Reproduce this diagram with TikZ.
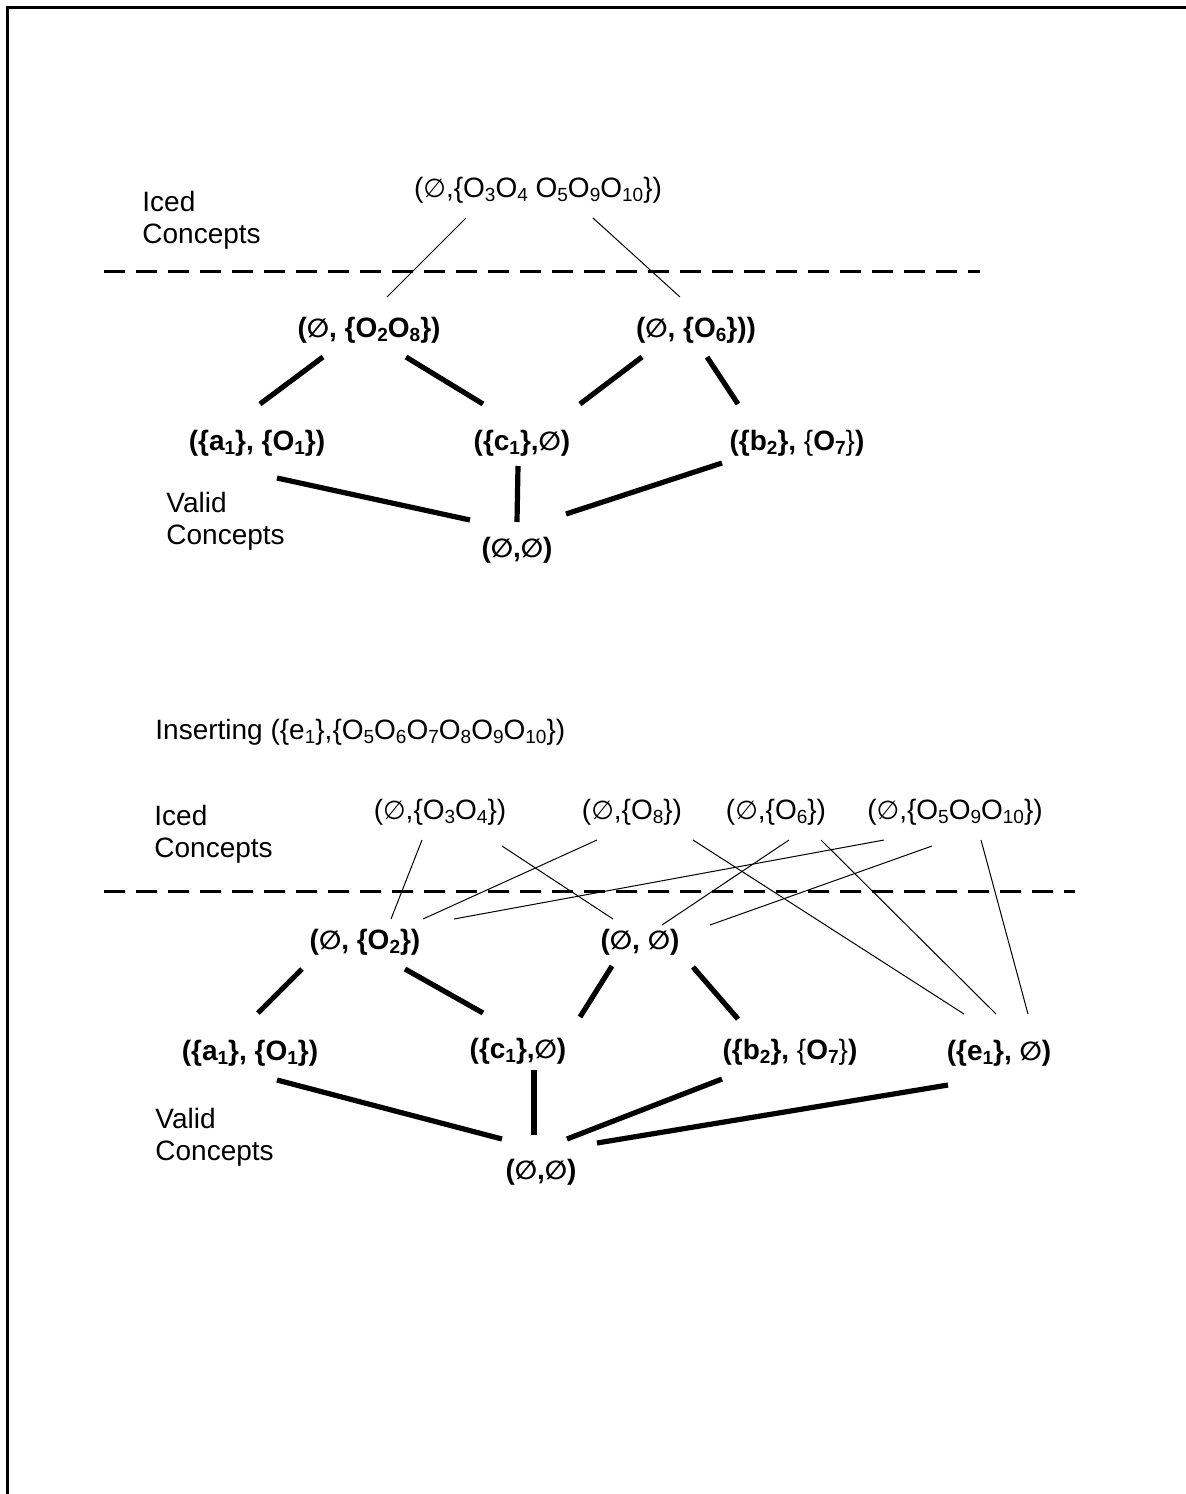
\documentclass[tikz,border=0pt]{standalone}
\usepackage{fontspec}
\setmainfont{Liberation Sans}
\newfontfamily\djv{DejaVu Sans}
\newcommand{\emptyS}{{\djv\fontsize{13}{16}\selectfont ∅}}
\newcommand{\sbs}[1]{\raisebox{-2.2pt}{\fontsize{9.5}{10}\selectfont #1}}
\tikzset{
  lbl/.style={inner sep=0pt, font=\fontsize{14}{16}\selectfont},
  blbl/.style={inner sep=0pt, font=\fontsize{14}{16}\selectfont\bfseries},
  side/.style={lbl, anchor=west, align=left},
  thickedge/.style={line width=2.6pt},
  thinedge/.style={line width=0.5pt},
  dashline/.style={line width=1.5pt, dash pattern=on 10.5pt off 5.5pt},
  frame/.style={line width=1.5pt}
}
\begin{document}
\begin{tikzpicture}[x=0.5pt,y=-0.5pt]
\useasboundingbox (0,0) rectangle (1186,1494);
\coordinate (fbl) at (7,1494);
\coordinate (ftl) at (7,7);
\coordinate (ftr) at (1186,7);
\draw[frame] (fbl) -- (ftl) -- (ftr);

% ===== top diagram =====
\node[side] (iced1) at (142,220) {Iced\\Concepts};
\node[side] (valid1) at (166,521) {Valid\\Concepts};
\coordinate (d1a) at (104,271);
\coordinate (d1b) at (980,271);
\draw[dashline] (d1a) -- (d1b);

\node[lbl] (top1) at (538,190) {(\emptyS,\{O\sbs{3}O\sbs{4} O\sbs{5}O\sbs{9}O\sbs{10}\})};
\node[blbl] (o28) at (369,330) {(\emptyS, \{O\sbs{2}O\sbs{8}\})};
\node[blbl] (o6) at (696,330) {(\emptyS, \{O\sbs{6}\}))};
\node[blbl] (a1) at (257,443) {(\{a\sbs{1}\}, \{O\sbs{1}\})};
\node[blbl] (c1) at (522,443) {(\{c\sbs{1}\},\emptyS)};
\node[blbl] (b2) at (797,443) {(\{b\sbs{2}\}, {\mdseries\{}O\sbs{7}{\mdseries\}})};
\node[blbl] (bot1) at (517,550) {(\emptyS,\emptyS)};

\coordinate (t1s) at (466,218); \coordinate (t1e) at (387,297);
\coordinate (t2s) at (593,218); \coordinate (t2e) at (680,297);
\draw[thinedge] (t1s) -- (t1e);
\draw[thinedge] (t2s) -- (t2e);

\coordinate (e1s) at (323,357); \coordinate (e1e) at (260,404);
\coordinate (e2s) at (406,357); \coordinate (e2e) at (483,404);
\coordinate (e3s) at (642,357); \coordinate (e3e) at (580,404);
\coordinate (e4s) at (707,357); \coordinate (e4e) at (738,404);
\coordinate (e5s) at (277,478); \coordinate (e5e) at (470,520);
\coordinate (e6s) at (518,466); \coordinate (e6e) at (517,522);
\coordinate (e7s) at (722,463); \coordinate (e7e) at (566,514);
\draw[thickedge] (e1s) -- (e1e);
\draw[thickedge] (e2s) -- (e2e);
\draw[thickedge] (e3s) -- (e3e);
\draw[thickedge] (e4s) -- (e4e);
\draw[thickedge] (e5s) -- (e5e);
\draw[thickedge] (e6s) -- (e6e);
\draw[thickedge] (e7s) -- (e7e);

% ===== bottom diagram =====
\node[side] (ins) at (155,732) {Inserting (\{e\sbs{1}\},\{O\sbs{5}O\sbs{6}O\sbs{7}O\sbs{8}O\sbs{9}O\sbs{10}\})};
\node[side] (iced2) at (154,834) {Iced\\Concepts};
\node[side] (valid2) at (155,1137) {Valid\\Concepts};
\coordinate (d2a) at (104,891);
\coordinate (d2b) at (1075,891);
\draw[dashline] (d2a) -- (d2b);

\node[lbl] (o34) at (440,812) {(\emptyS,\{O\sbs{3}O\sbs{4}\})};
\node[lbl] (o8) at (632,812) {(\emptyS,\{O\sbs{8}\})};
\node[lbl] (o6b) at (776,812) {(\emptyS,\{O\sbs{6}\})};
\node[lbl] (o5910) at (955,812) {(\emptyS,\{O\sbs{5}O\sbs{9}O\sbs{10}\})};
\node[blbl] (o2) at (365,942) {(\emptyS, \{O\sbs{2}\})};
\node[blbl] (ee) at (640,942) {(\emptyS, \emptyS)};
\node[blbl] (a1b) at (250,1053) {(\{a\sbs{1}\}, \{O\sbs{1}\})};
\node[blbl] (c1b) at (518,1051) {(\{c\sbs{1}\},\emptyS)};
\node[blbl] (b2b) at (790,1052) {(\{b\sbs{2}\}, {\mdseries\{}O\sbs{7}{\mdseries\}})};
\node[blbl] (e1n) at (999,1053) {(\{e\sbs{1}\}, \emptyS)};
\node[blbl] (bot2) at (541,1172) {(\emptyS,\emptyS)};

\coordinate (f1s) at (422,840); \coordinate (f1e) at (391,919);
\coordinate (f2s) at (502,846); \coordinate (f2e) at (613,919);
\coordinate (f3s) at (597,840); \coordinate (f3e) at (423,919);
\coordinate (f4s) at (884,840); \coordinate (f4e) at (454,919);
\coordinate (f5s) at (693,840); \coordinate (f5e) at (964,1014);
\coordinate (f6s) at (789,840); \coordinate (f6e) at (662,925);
\coordinate (f7s) at (932,846); \coordinate (f7e) at (710,925);
\coordinate (f8s) at (821,840); \coordinate (f8e) at (996,1014);
\coordinate (f9s) at (981,840); \coordinate (f9e) at (1028,1014);
\draw[thinedge] (f1s) -- (f1e);
\draw[thinedge] (f2s) -- (f2e);
\draw[thinedge] (f3s) -- (f3e);
\draw[thinedge] (f4s) -- (f4e);
\draw[thinedge] (f5s) -- (f5e);
\draw[thinedge] (f6s) -- (f6e);
\draw[thinedge] (f7s) -- (f7e);
\draw[thinedge] (f8s) -- (f8e);
\draw[thinedge] (f9s) -- (f9e);

\coordinate (g1s) at (302,969); \coordinate (g1e) at (258,1013);
\coordinate (g2s) at (405,969); \coordinate (g2e) at (483,1013);
\coordinate (g3s) at (612,966); \coordinate (g3e) at (580,1017);
\coordinate (g4s) at (693,967); \coordinate (g4e) at (738,1019);
\coordinate (g5s) at (277,1080); \coordinate (g5e) at (502,1139);
\coordinate (g6s) at (534,1070); \coordinate (g6e) at (534,1135);
\coordinate (g7s) at (722,1079); \coordinate (g7e) at (567,1139);
\coordinate (g8s) at (948,1085); \coordinate (g8e) at (597,1143);
\draw[thickedge] (g1s) -- (g1e);
\draw[thickedge] (g2s) -- (g2e);
\draw[thickedge] (g3s) -- (g3e);
\draw[thickedge] (g4s) -- (g4e);
\draw[thickedge] (g5s) -- (g5e);
\draw[thickedge] (g6s) -- (g6e);
\draw[thickedge] (g7s) -- (g7e);
\draw[thickedge] (g8s) -- (g8e);
\end{tikzpicture}
\end{document}
